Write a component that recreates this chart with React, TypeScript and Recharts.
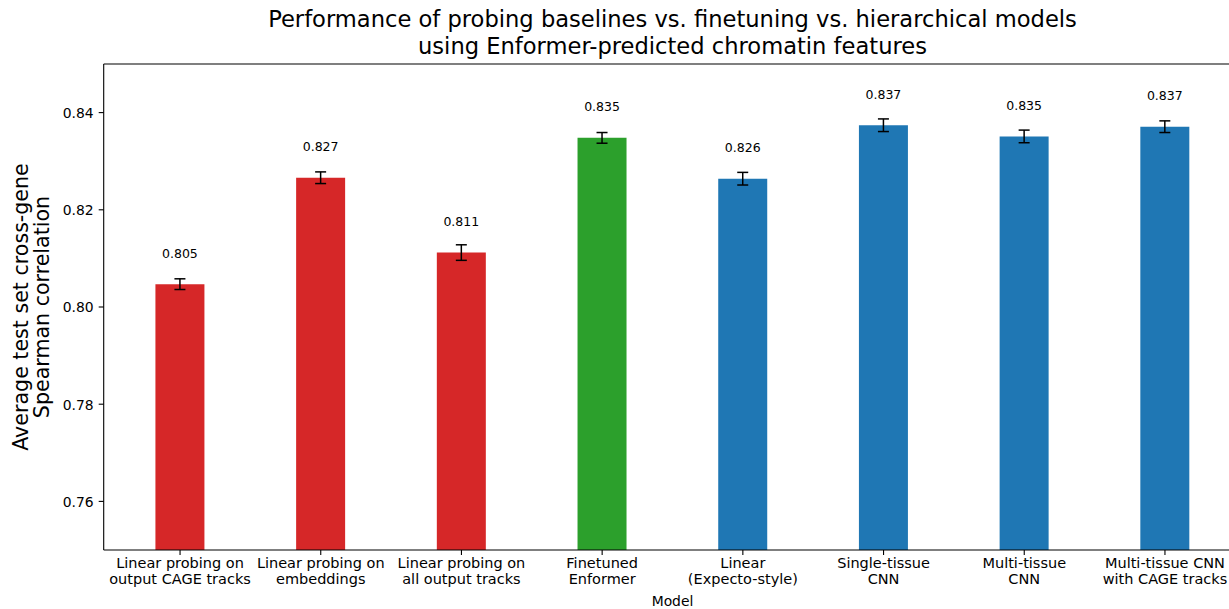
import React from 'react';
import {
  BarChart,
  Bar,
  XAxis,
  YAxis,
  ErrorBar,
  Cell,
  LabelList,
  ReferenceLine,
  Customized,
} from 'recharts';

// Model names (line breaks mark where each tick label wraps)
const models = [
  'Linear probing on\noutput CAGE tracks',
  'Linear probing on\nembeddings',
  'Linear probing on\nall output tracks',
  'Finetuned\nEnformer',
  'Linear\n(Expecto-style)',
  'Single-tissue\nCNN',
  'Multi-tissue\nCNN',
  'Multi-tissue CNN\nwith CAGE tracks',
];

// Mean test-set cross-gene Spearman correlation per model
const meanSpearman = [0.8047, 0.8266, 0.8112, 0.8348, 0.8264, 0.8374, 0.8351, 0.8371];

// Standard error across runs
const stdErr = [0.0011, 0.0012, 0.0016, 0.0011, 0.0013, 0.0013, 0.0013, 0.0012];

// Colour per model family: probing baselines, finetuning, hierarchical models
const barColors = [
  '#d62728',
  '#d62728',
  '#d62728',
  '#2ca02c',
  '#1f77b4',
  '#1f77b4',
  '#1f77b4',
  '#1f77b4',
];

const yTicks = [0.76, 0.78, 0.8, 0.82, 0.84];
const yDomain: [number, number] = [0.75, 0.85];

const titleLines = [
  'Performance of probing baselines vs. finetuning vs. hierarchical models',
  'using Enformer-predicted chromatin features',
];
const yLabelLines = ['Average test set cross-gene', 'Spearman correlation'];
const xLabel = 'Model';

const data = models.map((model, i) => ({
  model,
  value: meanSpearman[i],
  err: stdErr[i],
}));

const FONT = '"DejaVu Sans", sans-serif';
const CHART_W = 1260;
const CHART_H = 609;
const AXIS_CENTER_X = 672.5;
const PLOT_CENTER_Y = 307;

const XTick = (props: any) => {
  const { x, y, payload } = props;
  const lines = String(payload.value).split('\n');
  return (
    <g transform={`translate(${x},${y})`}>
      {lines.map((line, i) => (
        <text
          key={i}
          x={0}
          y={12.8 + i * 16}
          textAnchor="middle"
          fontSize={14.5}
          fontFamily={FONT}
          fill="#000"
        >
          {line}
        </text>
      ))}
    </g>
  );
};

const YTick = (props: any) => {
  const { x, y, payload } = props;
  return (
    <text
      x={x}
      y={y + 5.3}
      textAnchor="end"
      fontSize={13.9}
      fontFamily={FONT}
      fill="#000"
    >
      {Number(payload.value).toFixed(2)}
    </text>
  );
};

const ValueLabel = (props: any) => {
  const { x, y, width, value } = props;
  return (
    <text
      x={Number(x) + Number(width) / 2}
      y={Number(y) - 26.6}
      textAnchor="middle"
      fontSize={12.5}
      fontFamily={FONT}
      fill="#000"
    >
      {Number(value).toFixed(3)}
    </text>
  );
};

const Annotations = () => (
  <g fontFamily={FONT} fill="#000">
    {titleLines.map((line, i) => (
      <text key={`t${i}`} x={AXIS_CENTER_X} y={27.4 + i * 26.6} textAnchor="middle" fontSize={22.6}>
        {line}
      </text>
    ))}
    {yLabelLines.map((line, i) => (
      <text
        key={`y${i}`}
        transform={`translate(${28.3 + i * 20.3},${PLOT_CENTER_Y}) rotate(-90)`}
        textAnchor="middle"
        fontSize={20.6}
      >
        {line}
      </text>
    ))}
    <text x={AXIS_CENTER_X} y={605.5} textAnchor="middle" fontSize={13.9}>
      {xLabel}
    </text>
  </g>
);

export default function App() {
  return (
    <div
      style={{
        position: 'absolute',
        left: 0,
        top: 0,
        width: 1229,
        height: 609,
        overflow: 'hidden',
        background: '#fff',
      }}
    >
      <BarChart
        width={CHART_W}
        height={CHART_H}
        data={data}
        margin={{ top: 64, right: 18.7, bottom: 0, left: 0 }}
        barCategoryGap="32.5%"
      >
        <XAxis
          dataKey="model"
          interval={0}
          height={59}
          padding={{ left: 6, right: 6 }}
          tick={<XTick />}
          tickSize={5}
          tickMargin={0}
          axisLine={{ stroke: '#000', strokeWidth: 1.1 }}
          tickLine={{ stroke: '#000', strokeWidth: 1.1 }}
        />
        <YAxis
          width={103.7}
          domain={yDomain}
          ticks={yTicks}
          allowDataOverflow
          tick={<YTick />}
          tickSize={5}
          tickMargin={5}
          axisLine={{ stroke: '#000', strokeWidth: 1.1 }}
          tickLine={{ stroke: '#000', strokeWidth: 1.1 }}
        />
        <ReferenceLine y={0.85} stroke="#000" strokeWidth={1.1} ifOverflow="visible" />
        <Bar dataKey="value" isAnimationActive={false}>
          {data.map((d, i) => (
            <Cell key={d.model} fill={barColors[i]} />
          ))}
          <ErrorBar dataKey="err" direction="y" width={5.5} stroke="#000" strokeWidth={1.5} />
          <LabelList dataKey="value" content={<ValueLabel />} />
        </Bar>
        <Customized component={<Annotations />} />
      </BarChart>
    </div>
  );
}
